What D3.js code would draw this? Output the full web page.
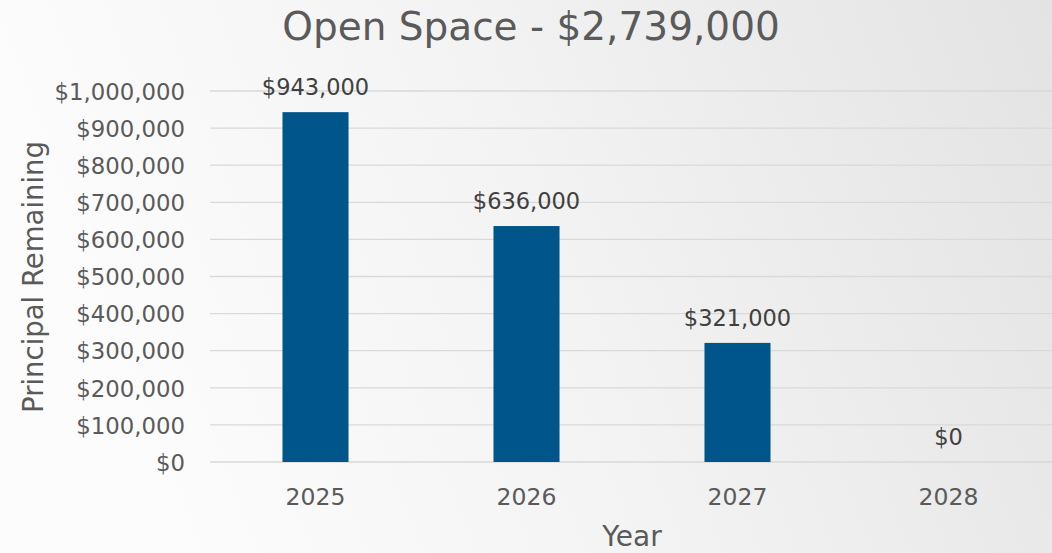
<!DOCTYPE html>
<html>
<head>
<meta charset="utf-8">
<script src="https://cdn.jsdelivr.net/npm/d3@7"></script>
<style>
  body { margin: 0; }
  svg { display: block; font-family: "DejaVu Sans", sans-serif; }
</style>
</head>
<body>
<svg id="chart" width="1052" height="553"></svg>
<script>
// chart data
const years = ["2025", "2026", "2027", "2028"];
const principal = [943000, 636000, 321000, 0];
const yTicks = [0, 100000, 200000, 300000, 400000, 500000, 600000, 700000, 800000, 900000, 1000000];
const title = "Open Space - $2,739,000";

const W = 1052, H = 553;
const margin = { top: 91, right: -2, bottom: 91, left: 210 };
const svg = d3.select("#chart");

// background gradient
const grad = svg.append("defs").append("linearGradient")
  .attr("id", "bg").attr("x1", "0").attr("y1", "0.2").attr("x2", "1").attr("y2", "0");
grad.append("stop").attr("offset", "0").attr("stop-color", "#fcfcfc");
grad.append("stop").attr("offset", "0.45").attr("stop-color", "#f3f3f3");
grad.append("stop").attr("offset", "1").attr("stop-color", "#e3e3e3");
svg.append("rect").attr("width", W).attr("height", H).attr("fill", "url(#bg)");

const x = d3.scaleBand().domain(years)
  .range([margin.left, W - margin.right]).paddingInner(0.687).paddingOuter(0.3435);
const y = d3.scaleLinear().domain([0, 1000000]).range([H - margin.bottom, margin.top]);

const fmt = d3.format("$,");

// gridlines
svg.append("g").selectAll("line").data(yTicks).enter().append("line")
  .attr("x1", margin.left).attr("x2", W)
  .attr("y1", (d) => y(d)).attr("y2", (d) => y(d))
  .attr("stroke", "#d9d9d9").attr("stroke-width", 1.3);

// y axis labels
const yAxis = d3.axisLeft(y).tickValues(yTicks).tickFormat(fmt).tickSize(0).tickPadding(0);
svg.append("g").attr("transform", "translate(" + 185 + ",0)").call(yAxis)
  .call((g) => g.select(".domain").remove())
  .selectAll("text")
  .attr("fill", "#5a5a5a").attr("font-size", 22.8).attr("font-family", "DejaVu Sans")
  .attr("dy", "0.36em");

// bars
svg.append("g").selectAll("rect").data(principal).enter().append("rect")
  .attr("x", (d, i) => x(years[i]))
  .attr("y", (d) => y(d))
  .attr("width", x.bandwidth())
  .attr("height", (d) => y(0) - y(d))
  .attr("fill", "#00568a");

// value labels
svg.append("g").selectAll("text").data(principal).enter().append("text")
  .attr("x", (d, i) => x(years[i]) + x.bandwidth() / 2)
  .attr("y", (d) => y(d) - 17)
  .attr("text-anchor", "middle")
  .attr("fill", "#404040").attr("font-size", 22.5)
  .text((d) => fmt(d));

// x axis labels
const xAxis = d3.axisBottom(x).tickSize(0).tickPadding(0);
svg.append("g").attr("transform", "translate(0," + 505 + ")").call(xAxis)
  .call((g) => g.select(".domain").remove())
  .selectAll("text")
  .attr("fill", "#5a5a5a").attr("font-size", 23.5).attr("font-family", "DejaVu Sans")
  .attr("dy", 0);

// titles
svg.append("text").attr("x", 531).attr("y", 40).attr("text-anchor", "middle")
  .attr("fill", "#5a5a5a").attr("font-size", 39).text(title);

svg.append("text").attr("transform", "translate(43,277) rotate(-90)")
  .attr("text-anchor", "middle").attr("fill", "#5a5a5a").attr("font-size", 27.5)
  .text("Principal Remaining");

svg.append("text").attr("x", 632).attr("y", 546).attr("text-anchor", "middle")
  .attr("fill", "#5a5a5a").attr("font-size", 28).text("Year");
</script>
</body>
</html>
